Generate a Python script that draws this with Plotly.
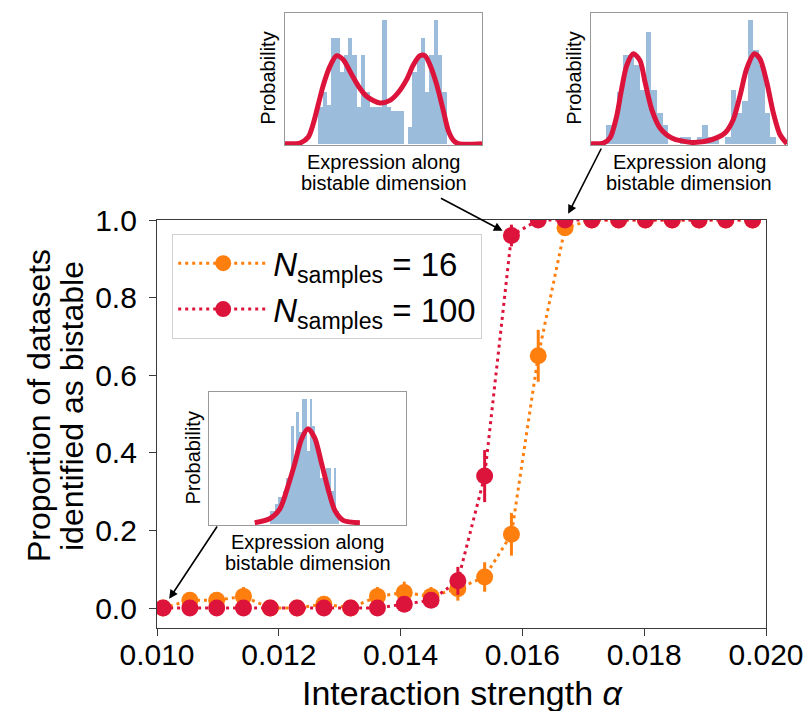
import plotly.graph_objects as go

# ---------------- main data ----------------
alpha = [0.0101, 0.01054, 0.01098, 0.01142, 0.01186, 0.0123, 0.01274, 0.01318,
         0.01362, 0.01406, 0.0145, 0.01494, 0.01538, 0.01582, 0.01626, 0.0167,
         0.01714, 0.01758, 0.01802, 0.01846, 0.0189, 0.01934, 0.01978]
prop_16 = [0.0, 0.02, 0.02, 0.03, 0.0, 0.0, 0.01, 0.0, 0.03, 0.04, 0.03, 0.05,
           0.08, 0.19, 0.65, 0.98, 1.0, 1.0, 1.0, 1.0, 1.0, 1.0, 1.0]
err_16 = [0.0, 0.02, 0.02, 0.024, 0.0, 0.0, 0.014, 0.0, 0.024, 0.028, 0.024, 0.031,
          0.038, 0.055, 0.067, 0.02, 0.0, 0.0, 0.0, 0.0, 0.0, 0.0, 0.0]
prop_100 = [0.0, 0.0, 0.0, 0.0, 0.0, 0.0, 0.0, 0.0, 0.0, 0.01, 0.02, 0.07,
            0.34, 0.96, 1.0, 1.0, 1.0, 1.0, 1.0, 1.0, 1.0, 1.0, 1.0]
err_100 = [0.0, 0.0, 0.0, 0.0, 0.0, 0.0, 0.0, 0.0, 0.0, 0.014, 0.02, 0.036,
           0.067, 0.028, 0.0, 0.0, 0.0, 0.0, 0.0, 0.0, 0.0, 0.0, 0.0]
x_ticks = [0.010, 0.012, 0.014, 0.016, 0.018, 0.020]
y_ticks = [0.0, 0.2, 0.4, 0.6, 0.8, 1.0]

# ---------------- inset data (normalised to inset box) ----------------
# inset A: partially bistable (top left)
histA_start, histA_width = 0.169, 0.0217
histA_heights = [0.28, 0.40, 0.30, 0.81, 0.81, 0.55, 0.68, 0.81, 0.68, 0.28,
                 0.68, 0.40, 0.28, 0.28, 0.28, 0.95, 0.28, 0.25, 0.25, 0.25,
                 0.0, 0.13, 0.55, 0.68, 0.81, 0.40, 0.68, 0.95, 0.68, 0.40]
curveA_x = [0.0, 0.076, 0.118, 0.143, 0.169, 0.195, 0.228, 0.262, 0.296, 0.330,
            0.372, 0.415, 0.482, 0.533, 0.575, 0.618, 0.651, 0.685, 0.711, 0.736,
            0.770, 0.804, 0.829, 0.855, 0.88, 1.0]
curveA_y = [0.0, 0.005, 0.05, 0.15, 0.30, 0.45, 0.59, 0.67, 0.64, 0.55,
            0.44, 0.36, 0.31, 0.33, 0.39, 0.49, 0.60, 0.67, 0.67, 0.60,
            0.45, 0.25, 0.10, 0.025, 0.0, 0.0]

# inset B: clearly bistable (top right)
histB_start, histB_width = 0.0765, 0.0289
histB_heights = [0.146, 0.146, 0.40, 0.68, 0.68, 0.60, 0.415, 0.856, 0.415, 0.236,
                 0.146, 0.0, 0.0, 0.056, 0.056, 0.0, 0.056, 0.146, 0.056, 0.03,
                 0.0, 0.056, 0.415, 0.236, 0.326, 0.95, 0.72, 0.60, 0.236, 0.056]
curveB_x = [0.0, 0.063, 0.097, 0.131, 0.156, 0.182, 0.216, 0.250, 0.276, 0.310,
            0.352, 0.412, 0.514, 0.615, 0.684, 0.726, 0.760, 0.794, 0.833, 0.862,
            0.897, 0.930, 0.964, 1.0]
curveB_y = [0.0, 0.005, 0.044, 0.21, 0.415, 0.595, 0.685, 0.633, 0.467, 0.26,
            0.12, 0.044, 0.01, 0.03, 0.082, 0.185, 0.364, 0.57, 0.685, 0.646,
            0.467, 0.236, 0.07, 0.0]

# inset C: unimodal (bottom left)
histC_start, histC_width = 0.308, 0.01356
histC_heights = [0.10, 0.10, 0.15, 0.20, 0.20, 0.25, 0.35, 0.30, 0.74, 0.45,
                 0.85, 0.70, 0.95, 0.95, 0.55, 0.95, 0.74, 0.60, 0.50, 0.35,
                 0.35, 0.42, 0.42, 0.25, 0.42, 0.10]
curveC_x = [0.232, 0.308, 0.359, 0.402, 0.436, 0.469, 0.503, 0.537, 0.571, 0.605,
            0.639, 0.681, 0.766]
curveC_y = [0.0075, 0.0375, 0.11, 0.29, 0.46, 0.64, 0.72, 0.65, 0.46, 0.26,
            0.10, 0.025, 0.0075]

# ---------------- styling ----------------
W, H = 811, 711
FONT = "Liberation Sans, Arial, Helvetica, sans-serif"
ORANGE = "#FF7F0E"
RED = "#DC143C"
HISTC = "#9cbcdc"
AX = "#3a3a3a"


def dom_x(a, b):
    return [a / W, b / W]


def dom_y(top, bottom):
    return [1 - bottom / H, 1 - top / H]


fig = go.Figure()

# main series
for prop, err, col, lab in [(prop_16, err_16, ORANGE, "<i>N</i><sub>samples</sub> = 16"),
                            (prop_100, err_100, RED, "<i>N</i><sub>samples</sub> = 100")]:
    fig.add_trace(go.Scatter(
        x=alpha, y=prop, mode="lines+markers", name=lab,
        line=dict(color=col, width=3, dash="3px,4px"),
        marker=dict(color=col, size=17),
        error_y=dict(type="data", array=err, color=col, thickness=3, width=0, visible=True),
        xaxis="x", yaxis="y", cliponaxis=True,
    ))

# insets
insets = [
    ("x2", "y2", histA_start, histA_width, histA_heights, curveA_x, curveA_y),
    ("x3", "y3", histB_start, histB_width, histB_heights, curveB_x, curveB_y),
    ("x4", "y4", histC_start, histC_width, histC_heights, curveC_x, curveC_y),
]
for xa, ya, st, wd, hts, cx, cy in insets:
    centers = [st + wd * (i + 0.5) for i in range(len(hts))]
    fig.add_trace(go.Bar(x=centers, y=hts, width=wd, marker=dict(color=HISTC, line=dict(width=0)),
                         xaxis=xa, yaxis=ya, showlegend=False, hoverinfo="skip"))
    fig.add_trace(go.Scatter(x=cx, y=cy, mode="lines", line=dict(color=RED, width=5, shape="spline", smoothing=0.8),
                             xaxis=xa, yaxis=ya, showlegend=False, hoverinfo="skip"))

main_axis_common = dict(showline=True, linecolor=AX, linewidth=1.3, mirror=True,
                        ticks="outside", ticklen=7, tickwidth=1.3, tickcolor=AX,
                        showgrid=False, zeroline=False, automargin=False,
                        tickfont=dict(family=FONT, size=30, color="black"))

inset_axis_common = dict(showline=True, linecolor="#999999", linewidth=1, mirror=True,
                         ticks="", showticklabels=False, showgrid=False, zeroline=False,
                         automargin=False)

layout = dict(
    width=W, height=H, margin=dict(l=0, r=0, t=0, b=0, autoexpand=False),
    paper_bgcolor="white", plot_bgcolor="white",
    font=dict(family=FONT, color="black"),
    barmode="overlay", bargap=0,
    xaxis=dict(domain=dom_x(157, 766), range=[0.010, 0.020], tickvals=x_ticks,
               tickformat=".3f", anchor="y", ticklabelstandoff=-7, **main_axis_common),
    yaxis=dict(domain=dom_y(220, 628), range=[-0.0515, 1.0], tickvals=y_ticks,
               tickformat=".1f", anchor="x", ticklabelstandoff=6, **main_axis_common),
    xaxis2=dict(domain=dom_x(285, 482), range=[0, 1], anchor="y2", **inset_axis_common),
    yaxis2=dict(domain=dom_y(12.5, 145), range=[-0.01, 1], anchor="x2", **inset_axis_common),
    xaxis3=dict(domain=dom_x(591, 787), range=[0, 1], anchor="y3", **inset_axis_common),
    yaxis3=dict(domain=dom_y(12.5, 145), range=[-0.01, 1], anchor="x3", **inset_axis_common),
    xaxis4=dict(domain=dom_x(209, 406), range=[0, 1], anchor="y4", **inset_axis_common),
    yaxis4=dict(domain=dom_y(392, 525), range=[-0.01, 1], anchor="x4", **inset_axis_common),
    legend=dict(x=172 / W, y=1 - 234 / H, xanchor="left", yanchor="top",
                bgcolor="white", bordercolor="#d0d0d0", borderwidth=1.2,
                font=dict(family=FONT, size=33, color="black"),
                itemwidth=90, tracegroupgap=0),
    showlegend=True,
)
fig.update_layout(**layout)

ann = []
# axis titles
ann.append(dict(text="Proportion of datasets", x=39 / W, y=1 - 406 / H, xref="paper", yref="paper",
                textangle=-90, showarrow=False, font=dict(size=32), xanchor="center", yanchor="middle"))
ann.append(dict(text="identified as bistable", x=72 / W, y=1 - 406 / H, xref="paper", yref="paper",
                textangle=-90, showarrow=False, font=dict(size=32), xanchor="center", yanchor="middle"))
ann.append(dict(text="Interaction strength <i>α</i>", x=463 / W, y=1 - 693 / H, xref="paper", yref="paper",
                showarrow=False, font=dict(size=34), xanchor="center", yanchor="middle"))

# inset labels
for left, right, top, bottom in [(285, 482, 12.5, 145), (591, 787, 12.5, 145), (209, 406, 392, 525)]:
    cx = (left + right) / 2
    ann.append(dict(text="Probability", x=(left - 17) / W, y=1 - (top + bottom) / 2 / H,
                    xref="paper", yref="paper", textangle=-90, showarrow=False,
                    font=dict(size=20), xanchor="center", yanchor="middle"))
    ann.append(dict(text="Expression along", x=cx / W, y=1 - (bottom + 17) / H,
                    xref="paper", yref="paper", showarrow=False,
                    font=dict(size=20), xanchor="center", yanchor="middle"))
    ann.append(dict(text="bistable dimension", x=cx / W, y=1 - (bottom + 38) / H,
                    xref="paper", yref="paper", showarrow=False,
                    font=dict(size=20), xanchor="center", yanchor="middle"))

# arrows from insets to data points
arrow_common = dict(xref="x", yref="y", axref="pixel", ayref="pixel", showarrow=True,
                    arrowhead=2, arrowsize=1.1, arrowwidth=1.6, arrowcolor="black", text="")
ann.append(dict(x=alpha[13], y=prop_100[13], ax=-72, ay=-38, standoff=10, **arrow_common))
ann.append(dict(x=alpha[15], y=prop_100[15], ax=37, ay=-73, standoff=7, **arrow_common))
ann.append(dict(x=alpha[0], y=prop_100[0], ax=55, ay=-83, standoff=11, **arrow_common))

fig.update_layout(annotations=ann)

fig.write_html("out.html")
